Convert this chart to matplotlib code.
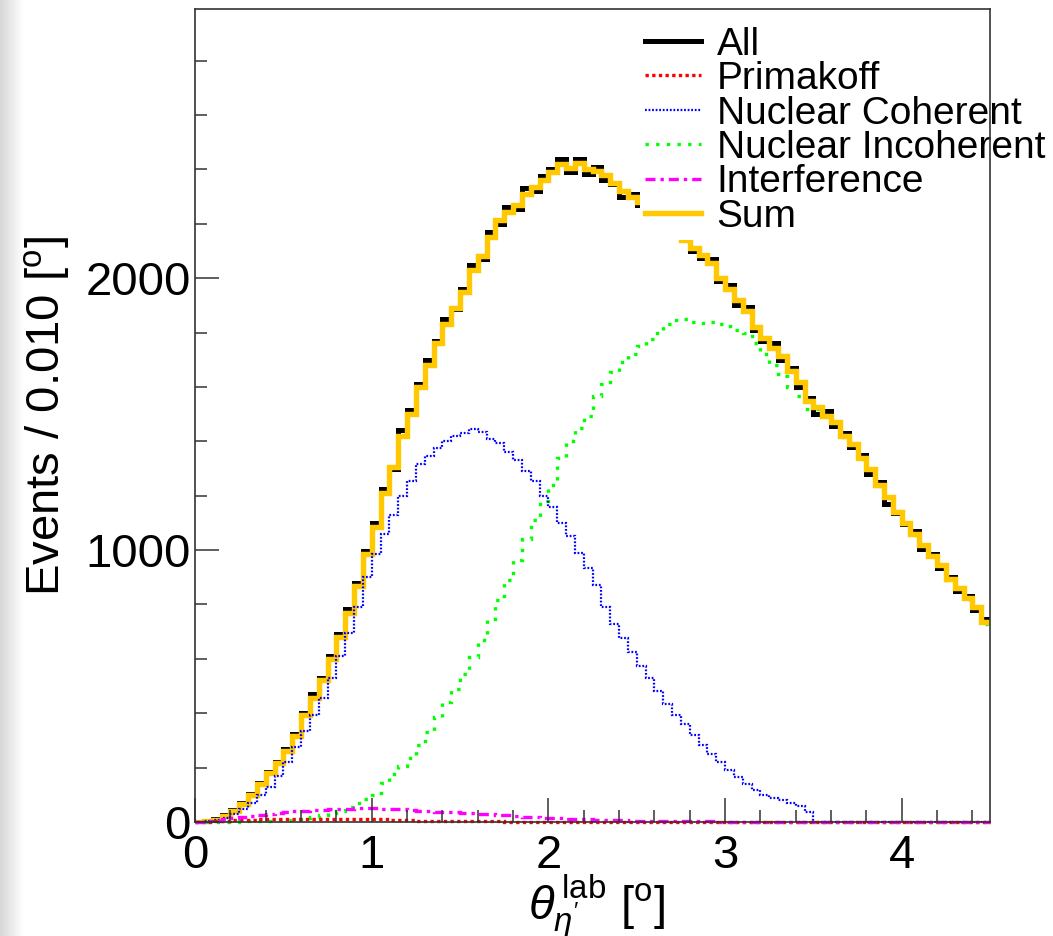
import numpy as np
import matplotlib
matplotlib.use("Agg")
import matplotlib.pyplot as plt
from matplotlib.ticker import MultipleLocator

plt.rcParams['font.family'] = ['Liberation Sans', 'DejaVu Sans']
plt.rcParams['mathtext.fontset'] = 'custom'
plt.rcParams['mathtext.rm'] = 'Liberation Sans'
plt.rcParams['mathtext.it'] = 'Liberation Sans:italic'

###############################################################################
# Histogram contents (events per 0.010 deg) on a
# 0.05 deg grid from 0 to 4.5 deg
bin_width = 0.05
theta_max = 4.5

all_events = [
    1, 3, 10, 24, 45, 70, 104, 142, 185, 222,
    270, 325, 400, 470, 530, 612, 690, 785, 880, 995,
    1100, 1225, 1300, 1440, 1515, 1610, 1700, 1770, 1850, 1885,
    1960, 2050, 2070, 2170, 2200, 2260, 2255, 2330, 2320, 2375,
    2400, 2440, 2390, 2440, 2385, 2410, 2360, 2345, 2300, 2310,
    2270, 2260, 2215, 2200, 2150, 2150, 2100, 2075, 2070, 1990,
    1975, 1900, 1895, 1810, 1770, 1760, 1700, 1670, 1600, 1560,
    1500, 1510, 1455, 1430, 1380, 1350, 1280, 1250, 1170, 1135,
    1095, 1070, 1005, 985, 935, 900, 850, 830, 780, 745,
]

sum_events = [
    1, 3, 9, 22, 42, 68, 100, 138, 180, 218,
    262, 318, 392, 455, 522, 600, 682, 770, 868, 985,
    1085, 1210, 1305, 1420, 1500, 1600, 1680, 1760, 1830, 1890,
    1950, 2030, 2080, 2150, 2215, 2245, 2270, 2310, 2335, 2360,
    2390, 2420, 2405, 2425, 2400, 2395, 2380, 2350, 2320, 2300,
    2280, 2250, 2225, 2195, 2165, 2140, 2110, 2085, 2055, 2000,
    1960, 1920, 1880, 1820, 1780, 1745, 1715, 1660, 1620, 1550,
    1525, 1495, 1470, 1420, 1390, 1340, 1300, 1240, 1195, 1140,
    1100, 1060, 1020, 980, 945, 895, 860, 825, 790, 735,
]

primakoff = [
    0, 1, 3, 5, 7, 8, 9, 10, 11, 11,
    12, 12, 12, 12, 12, 12, 11, 11, 11, 10,
    10, 10, 9, 9, 8, 3, 3, 2, 2, 2,
    2, 2, 2, 2, 2, 1, 1, 1, 1, 1,
    1, 1, 1, 1, 1, 1, 1, 1, 1, 1,
    1, 1, 1, 1, 1, 1, 1, 1, 1, 1,
    0, 0, 0, 0, 0, 0, 0, 0, 0, 0,
    0, 0, 0, 0, 0, 0, 0, 0, 0, 0,
    0, 0, 0, 0, 0, 0, 0, 0, 0, 0,
]

coherent = [
    0, 2, 6, 15, 30, 48, 70, 98, 130, 170,
    222, 275, 335, 395, 455, 530, 610, 695, 790, 900,
    985, 1060, 1130, 1200, 1255, 1315, 1345, 1375, 1400, 1420,
    1430, 1445, 1435, 1410, 1395, 1360, 1330, 1290, 1255, 1200,
    1160, 1100, 1050, 990, 935, 870, 790, 730, 675, 625,
    575, 530, 480, 435, 395, 360, 320, 285, 250, 220,
    190, 165, 140, 118, 100, 90, 80, 70, 60, 38,
    0, 0, 0, 0, 0, 0, 0, 0, 0, 0,
    0, 0, 0, 0, 0, 0, 0, 0, 0, 0,
]

incoherent = [
    0, 0, 0, 1, 1, 2, 3, 4, 5, 6,
    7, 10, 13, 18, 24, 32, 42, 55, 70, 85,
    100, 145, 175, 205, 235, 285, 330, 385, 440, 490,
    545, 605, 670, 745, 815, 890, 965, 1040, 1110, 1180,
    1240, 1340, 1400, 1450, 1495, 1565, 1610, 1655, 1690, 1720,
    1750, 1775, 1800, 1830, 1845, 1850, 1840, 1835, 1840, 1830,
    1825, 1810, 1800, 1760, 1720, 1680, 1640, 1600, 1565, 1520,
    1520, 1490, 1465, 1415, 1385, 1335, 1295, 1235, 1190, 1135,
    1095, 1055, 1015, 975, 940, 890, 855, 820, 785, 730,
]

interference = [
    0, 2, 5, 10, 14, 18, 22, 26, 30, 34,
    37, 40, 42, 44, 45, 47, 48, 49, 50, 50,
    50, 49, 48, 46, 44, 42, 40, 38, 36, 35,
    34, 32, 30, 28, 26, 24, 22, 20, 18, 16,
    14, 13, 12, 11, 10, 9, 8, 7, 6, 5,
    4, 4, 3, 3, 3, 2, 2, 2, 2, 1,
    1, 1, 1, 1, 1, 1, 1, 1, 1, 1,
    1, 1, 1, 1, 1, 0, 0, 0, 0, 0,
    0, 0, 0, 0, 0, 0, 0, 0, 0, 0,
]

labels = ['All', 'Primakoff', 'Nuclear Coherent', 'Nuclear Incoherent',
          'Interference', 'Sum']
###############################################################################

edges = np.linspace(0, theta_max, int(round(theta_max / bin_width)) + 1)

W, H = 1053, 936
fig = plt.figure(figsize=(W / 100, H / 100), dpi=100)

# grey shadow along the left border of the canvas
sh = fig.add_axes([0, 0, 24 / W, 1])
grad = np.linspace(0.78, 1.0, 64)[None, :] ** 0.7
sh.imshow(grad, cmap='gray', vmin=0, vmax=1, aspect='auto',
          extent=[0, 1, 0, 1])
sh.set_axis_off()

ax = fig.add_axes([195 / W, 1 - 822 / H, 795 / W, 813 / H])

# components below, totals on top
h_inc = ax.stairs(incoherent, edges, color='#00ff00', lw=2.4,
                  ls=(0, (1, 2.2)), baseline=None, clip_on=False)
h_all = ax.stairs(all_events, edges, color='black', lw=3.6, baseline=None)
h_sum = ax.stairs(sum_events, edges, color='#ffc800', lw=3.9, baseline=None)
h_coh = ax.stairs(coherent, edges, color='#0000ff', lw=1.6,
                  ls=(0, (0.8, 0.8)), baseline=None, clip_on=False)
h_pri = ax.stairs(primakoff, edges, color='#ff0000', lw=2.4,
                  ls=(0, (1, 1)), baseline=None, clip_on=False)
h_int = ax.stairs(interference, edges, color='#ff00ff', lw=2.4,
                  ls=(0, (3, 1.5, 1, 1.5)), baseline=None, clip_on=False)

ax.set_xlim(0, theta_max)
ax.set_ylim(0, 2990)

ax.xaxis.set_major_locator(MultipleLocator(1))
ax.xaxis.set_minor_locator(MultipleLocator(0.2))
ax.yaxis.set_major_locator(MultipleLocator(1000))
ax.yaxis.set_minor_locator(MultipleLocator(200))
ax.tick_params(which='both', direction='in', top=False, right=False,
               width=1.1, color='#333333', labelsize=34)
ax.tick_params(which='major', length=17)
ax.tick_params(which='minor', length=8.5)
ax.tick_params(axis='x', pad=9)
ax.tick_params(axis='y', pad=3)
for s in ax.spines.values():
    s.set_linewidth(1.2)
    s.set_color('#333333')
    s.set_zorder(4)

ax.set_ylabel('Events / 0.010 [$^{\\mathrm{o}}$]', fontsize=34)
ax.yaxis.set_label_coords(-0.155, 0.5)
ax.set_xlabel(r"$\theta_{\eta'}^{\,\mathrm{lab}}$ [$^{\mathrm{o}}$]",
              fontsize=34)
ax.xaxis.set_label_coords(0.505, -0.063)

# legend box is white and hides the curves, the frame stays on top
leg = ax.legend([h_all, h_pri, h_coh, h_inc, h_int, h_sum], labels,
                loc='upper left', bbox_to_anchor=(640 / W, 1 - 22 / H),
                bbox_transform=fig.transFigure,
                frameon=True, fancybox=False, edgecolor='none',
                facecolor='white', framealpha=1, fontsize=28,
                handlelength=1.45, handletextpad=0.4, labelspacing=-0.04,
                borderpad=0.12, borderaxespad=0)
leg.set_zorder(3)

fig.savefig('out.png', dpi=100)
